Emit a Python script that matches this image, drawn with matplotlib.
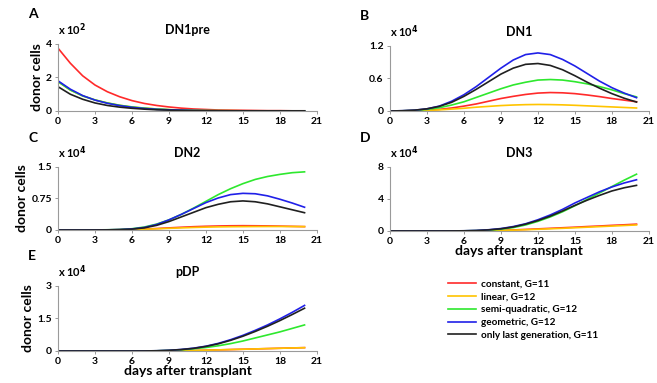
import numpy as np
import matplotlib
matplotlib.use("Agg")
import matplotlib.pyplot as plt

plt.rcParams['font.family'] = ['Lato', 'DejaVu Sans']
plt.rcParams['font.weight'] = 'bold'

days = np.arange(0, 21)

labels = ["constant, G=11", "linear, G=12", "semi-quadratic, G=12",
          "geometric, G=12", "only last generation, G=11"]
colors = ["#ff2a2a", "#ffc400", "#2ee82e", "#2020e8", "#202020"]

# DN1pre (x 10^2)
dn1pre_red = [3.75, 2.85, 2.1, 1.55, 1.15, 0.85, 0.62, 0.45, 0.33, 0.24, 0.17,
              0.12, 0.09, 0.06, 0.05, 0.04, 0.03, 0.02, 0.02, 0.01, 0.01]
dn1pre_yellow = [1.75, 1.25, 0.9, 0.66, 0.48, 0.34, 0.24, 0.17, 0.12, 0.08, 0.05,
                 0.035, 0.025, 0.02, 0.015, 0.01, 0.01, 0.01, 0.01, 0.01, 0.01]
dn1pre_green = [1.75, 1.25, 0.9, 0.66, 0.48, 0.34, 0.24, 0.17, 0.12, 0.08, 0.05,
                0.035, 0.025, 0.02, 0.015, 0.01, 0.01, 0.01, 0.01, 0.01, 0.01]
dn1pre_blue = [1.8, 1.3, 0.92, 0.65, 0.46, 0.32, 0.22, 0.15, 0.1, 0.07, 0.05,
               0.03, 0.02, 0.015, 0.01, 0.01, 0.01, 0.01, 0.01, 0.01, 0.01]
dn1pre_black = [1.45, 1.0, 0.7, 0.48, 0.33, 0.23, 0.16, 0.11, 0.07, 0.05, 0.03,
                0.02, 0.015, 0.01, 0.01, 0.01, 0.01, 0.01, 0.01, 0.01, 0.01]

# DN1 (x 10^4)
dn1_red = [0, 0.002, 0.006, 0.015, 0.03, 0.055, 0.09, 0.13, 0.18, 0.23, 0.27,
           0.305, 0.33, 0.34, 0.335, 0.32, 0.295, 0.265, 0.23, 0.2, 0.17]
dn1_yellow = [0, 0.002, 0.005, 0.012, 0.02, 0.035, 0.05, 0.07, 0.085, 0.1, 0.11,
              0.117, 0.12, 0.118, 0.113, 0.105, 0.095, 0.085, 0.075, 0.065, 0.055]
dn1_green = [0, 0.003, 0.01, 0.03, 0.06, 0.11, 0.17, 0.25, 0.33, 0.41, 0.48,
             0.53, 0.57, 0.58, 0.57, 0.54, 0.5, 0.45, 0.39, 0.32, 0.26]
dn1_blue = [0, 0.005, 0.015, 0.04, 0.09, 0.18, 0.3, 0.45, 0.62, 0.79, 0.94,
            1.04, 1.07, 1.04, 0.95, 0.83, 0.69, 0.55, 0.43, 0.33, 0.245]
dn1_black = [0, 0.005, 0.015, 0.04, 0.085, 0.16, 0.27, 0.4, 0.54, 0.68, 0.79,
             0.86, 0.875, 0.84, 0.76, 0.65, 0.53, 0.42, 0.32, 0.235, 0.165]

# DN2 (x 10^4)
dn2_red = [0, 0, 0, 0.001, 0.003, 0.006, 0.012, 0.022, 0.035, 0.05, 0.065,
           0.078, 0.088, 0.095, 0.1, 0.102, 0.1, 0.097, 0.092, 0.086, 0.08]
dn2_yellow = [0, 0, 0, 0.001, 0.002, 0.005, 0.01, 0.018, 0.028, 0.04, 0.05,
              0.06, 0.068, 0.074, 0.078, 0.08, 0.082, 0.083, 0.083, 0.082, 0.08]
dn2_green = [0, 0, 0, 0.002, 0.005, 0.012, 0.03, 0.07, 0.14, 0.24, 0.37,
             0.52, 0.68, 0.84, 0.98, 1.1, 1.2, 1.27, 1.32, 1.36, 1.38]
dn2_blue = [0, 0, 0, 0.001, 0.004, 0.01, 0.025, 0.06, 0.13, 0.24, 0.37,
            0.51, 0.65, 0.76, 0.84, 0.87, 0.86, 0.81, 0.73, 0.64, 0.54]
dn2_black = [0, 0, 0, 0.001, 0.003, 0.008, 0.02, 0.05, 0.11, 0.2, 0.31,
             0.42, 0.53, 0.61, 0.67, 0.69, 0.67, 0.62, 0.55, 0.48, 0.41]

# DN3 (x 10^4)
dn3_red = [0, 0, 0, 0, 0, 0.002, 0.005, 0.015, 0.04, 0.08, 0.13,
           0.19, 0.26, 0.33, 0.4, 0.47, 0.55, 0.62, 0.7, 0.77, 0.85]
dn3_yellow = [0, 0, 0, 0, 0, 0.001, 0.004, 0.012, 0.03, 0.06, 0.1,
              0.15, 0.21, 0.27, 0.33, 0.4, 0.47, 0.54, 0.61, 0.68, 0.75]
dn3_green = [0, 0, 0, 0, 0, 0.004, 0.015, 0.04, 0.1, 0.22, 0.42,
             0.75, 1.2, 1.75, 2.4, 3.15, 3.95, 4.75, 5.55, 6.35, 7.1]
dn3_blue = [0, 0, 0, 0, 0, 0.005, 0.02, 0.06, 0.15, 0.3, 0.55,
            0.9, 1.4, 2.0, 2.7, 3.5, 4.2, 4.9, 5.5, 6.0, 6.4]
dn3_black = [0, 0, 0, 0, 0, 0.005, 0.018, 0.05, 0.13, 0.27, 0.5,
             0.85, 1.3, 1.85, 2.5, 3.2, 3.85, 4.45, 5.0, 5.4, 5.7]

# pDP (x 10^4)
pdp_red = [0, 0, 0, 0, 0, 0, 0, 0.001, 0.002, 0.005, 0.012,
           0.022, 0.035, 0.05, 0.065, 0.08, 0.095, 0.11, 0.125, 0.14, 0.155]
pdp_yellow = [0, 0, 0, 0, 0, 0, 0, 0.001, 0.002, 0.005, 0.012,
              0.022, 0.035, 0.05, 0.065, 0.08, 0.095, 0.11, 0.125, 0.14, 0.15]
pdp_green = [0, 0, 0, 0, 0, 0, 0, 0.002, 0.008, 0.025, 0.055,
             0.1, 0.16, 0.24, 0.34, 0.46, 0.6, 0.74, 0.88, 1.04, 1.2]
pdp_blue = [0, 0, 0, 0, 0, 0, 0, 0.002, 0.01, 0.03, 0.07,
            0.13, 0.22, 0.35, 0.52, 0.72, 0.95, 1.2, 1.48, 1.78, 2.1]
pdp_black = [0, 0, 0, 0, 0, 0, 0, 0.002, 0.01, 0.03, 0.065,
             0.12, 0.21, 0.33, 0.49, 0.68, 0.9, 1.14, 1.4, 1.68, 1.97]

panels = [
    ("A", "DN1pre", "2", [0, 2, 4], ["0", "2", "4"],
     [dn1pre_red, dn1pre_yellow, dn1pre_green, dn1pre_blue, dn1pre_black],
     [0.0883, 0.7102, 0.394, 0.175], True, False),
    ("B", "DN1", "4", [0, 0.6, 1.2], ["0", "0.6", "1.2"],
     [dn1_red, dn1_yellow, dn1_green, dn1_blue, dn1_black],
     [0.5936, 0.7102, 0.394, 0.170], False, False),
    ("C", "DN2", "4", [0, 0.75, 1.5], ["0", "0.75", "1.5"],
     [dn2_red, dn2_yellow, dn2_green, dn2_blue, dn2_black],
     [0.0883, 0.3995, 0.394, 0.165], True, False),
    ("D", "DN3", "4", [0, 4, 8], ["0", "4", "8"],
     [dn3_red, dn3_yellow, dn3_green, dn3_blue, dn3_black],
     [0.5936, 0.397, 0.394, 0.167], False, True),
    ("E", "pDP", "4", [0, 1.5, 3], ["0", "1.5", "3"],
     [pdp_red, pdp_yellow, pdp_green, pdp_blue, pdp_black],
     [0.0883, 0.0836, 0.394, 0.170], True, True),
]

fig = plt.figure(figsize=(6.57, 3.83), dpi=100)

handles = []
for letter, title, exp, yt, ytl, series, rect, ylab, xlab in panels:
    ax = fig.add_axes(rect)
    for vals, c, lab in zip(series, colors, labels):
        ln, = ax.plot(days, vals, color=c, lw=1.2, label=lab)
        if letter == "A":
            handles.append(ln)
    ax.set_xlim(0, 21)
    ax.set_ylim(0, yt[-1])
    ax.set_xticks(np.arange(0, 22, 3))
    ax.set_yticks(yt)
    ax.set_yticklabels(ytl)
    for s in ["top", "right"]:
        ax.spines[s].set_visible(False)
    for s in ["left", "bottom"]:
        ax.spines[s].set_color("#9a9a9a")
        ax.spines[s].set_linewidth(0.8)
    ax.tick_params(labelsize=7.5, length=2.5, width=0.7, color="#9a9a9a", pad=2)
    for t in ax.get_xticklabels() + ax.get_yticklabels():
        t.set_fontweight("bold")
    ax.set_title(title, fontsize=9, fontweight="bold", pad=7)
    ax.text(0.0, 1.09, "x 10$^{\\mathbf{" + exp + "}}$", transform=ax.transAxes,
            fontsize=8, fontweight="bold", ha="left", va="bottom")
    ax.text(-0.115, 1.36, letter, transform=ax.transAxes, fontsize=10,
            fontweight="bold", ha="left", va="bottom")
    if ylab:
        ax.set_ylabel("donor cells", fontsize=10, fontweight="bold", labelpad=2)
    if xlab:
        ax.set_xlabel("days after transplant", fontsize=10, fontweight="bold",
                      labelpad=-1)

leg = fig.legend(handles=handles, loc="upper left", bbox_to_anchor=(0.676, 0.28),
                 frameon=False, fontsize=7.2, handlelength=2.8, handletextpad=0.5,
                 labelspacing=0.38, borderaxespad=0)
for t in leg.get_texts():
    t.set_fontweight("bold")

fig.savefig("out.png", dpi=100)
